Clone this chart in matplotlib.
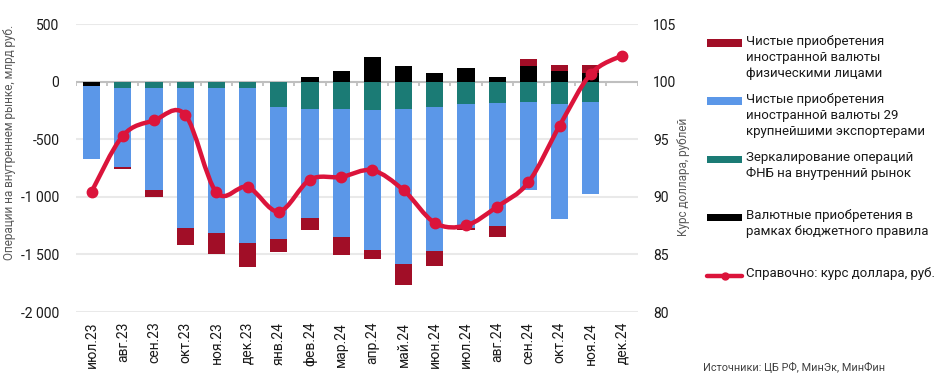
import numpy as np
import matplotlib
matplotlib.use("Agg")
import matplotlib.pyplot as plt
from matplotlib.path import Path
from matplotlib.patches import PathPatch, Rectangle
from matplotlib.lines import Line2D

plt.rcParams['font.family'] = ['Roboto', 'DejaVu Sans']

# ---------------- data ----------------
months = ["июл.23", "авг.23", "сен.23", "окт.23", "ноя.23", "дек.23",
          "янв.24", "фев.24", "мар.24", "апр.24", "май.24", "июн.24",
          "июл.24", "авг.24", "сен.24", "окт.24", "ноя.24", "дек.24"]
# Валютные приобретения в рамках бюджетного правила
budget = [-35, 0, 0, 0, 0, 0, 0, 37, 90, 211, 133, 78, 115, 40, 139, 90, 72, np.nan]
# Зеркалирование операций ФНБ
mirror = [0, -58, -52, -55, -52, -52, -222, -237, -237, -248, -237, -222, -196, -185, -179, -196, -179, np.nan]
# Чистые приобретения 29 крупнейшими экспортерами
exporters = [-635, -687, -892, -1215, -1259, -1348, -1143, -949, -1111, -1216, -1345, -1245,
             -1079, -1068, -759, -993, -797, np.nan]
# Чистые приобретения физическими лицами
individuals = [0, -10, -55, -150, -184, -208, -113, -101, -156, -80, -182, -132,
               -10, -95, 60, 58, 69, np.nan]
# Курс доллара
usd = [90.45, 95.30, 96.63, 97.12, 90.39, 90.85, 88.72, 91.49, 91.72, 92.30, 90.57, 87.74,
       87.51, 89.15, 91.26, 96.17, 100.67, 102.26]

left_ticks = [-2000, -1500, -1000, -500, 0, 500]
left_labels = ["-2 000", "-1 500", "-1 000", "-500", "0", "500"]
right_ticks = [80, 85, 90, 95, 100, 105]

legend_labels = ["Чистые приобретения\nиностранной валюты\nфизическими лицами",
                 "Чистые приобретения\nиностранной валюты 29\nкрупнейшими экспортерами",
                 "Зеркалирование операций\nФНБ на внутренний рынок",
                 "Валютные приобретения в\nрамках бюджетного правила",
                 "Справочно: курс доллара, руб."]
left_title = "Операции на внутреннем рынке, млрд руб."
right_title = "Курс доллара, рублей"
source = "Источники: ЦБ РФ, МинЭк, МинФин"

# ---------------- style ----------------
C_RED = "#a10e27"
C_BLUE = "#5b97e8"
C_TEAL = "#1b7b75"
C_BLACK = "#000000"
C_LINE = "#db143b"
C_GRID = "#e9e9e9"
C_AXIS = "#bfbfbf"

W, H = 935, 381
fig = plt.figure(figsize=(W / 100, H / 100), dpi=100)
ax_l, ax_r, ax_t, ax_b = 76, 637.6, 24, 312
ax = fig.add_axes([ax_l / W, 1 - ax_b / H, (ax_r - ax_l) / W, (ax_b - ax_t) / H])

x = np.arange(len(months))
bw = 0.55

# stacking: series in order outward from zero
series = [(budget, C_BLACK), (mirror, C_TEAL), (exporters, C_BLUE), (individuals, C_RED)]
pos_base = np.zeros(len(months))
neg_base = np.zeros(len(months))
for vals, col in series:
    v = np.array(vals, dtype=float)
    v0 = np.nan_to_num(v)
    bottoms = np.where(v0 >= 0, pos_base, neg_base)
    ax.bar(x, v0, bw, bottom=bottoms, color=col, zorder=3, linewidth=0)
    pos_base = pos_base + np.where(v0 > 0, v0, 0)
    neg_base = neg_base + np.where(v0 < 0, v0, 0)

ax.set_xlim(-0.5, len(months) - 0.5)
ax.set_ylim(-2000, 500)
ax.set_yticks(left_ticks)
ax.set_yticklabels(left_labels)
ax.grid(axis='y', color=C_GRID, lw=1.5, zorder=0)
ax.set_axisbelow(True)
for s in ax.spines.values():
    s.set_visible(False)
ax.tick_params(axis='y', length=0, pad=12, labelsize=10, labelcolor='#1a1a1a')
ax.set_xticks(x)
ax.set_xticklabels(months, rotation=90, va='top', ha='center')
ax.tick_params(axis='x', length=0, pad=7, labelsize=10, labelcolor='#1a1a1a')

# zero axis line with boundary ticks
ax.axhline(0, color=C_AXIS, lw=1.5, zorder=2)
bounds = np.arange(-0.5, len(months), 1.0)
ax.vlines(bounds, 0, -38, color=C_AXIS, lw=1.3, zorder=2)

# right axis with smoothed line
ax2 = ax.twinx()
ax2.set_ylim(80, 105)
ax2.set_yticks(right_ticks)
for s in ax2.spines.values():
    s.set_visible(False)
ax2.tick_params(axis='y', length=0, pad=11, labelsize=10, labelcolor='#1a1a1a')

yv = np.array(usd, dtype=float)
n = len(yv)
verts = [(x[0], yv[0])]
codes = [Path.MOVETO]
for i in range(n - 1):
    p0 = np.array([x[max(i - 1, 0)], yv[max(i - 1, 0)]])
    p1 = np.array([x[i], yv[i]])
    p2 = np.array([x[i + 1], yv[i + 1]])
    p3 = np.array([x[min(i + 2, n - 1)], yv[min(i + 2, n - 1)]])
    c1 = p1 + (p2 - p0) / 6.0
    c2 = p2 - (p3 - p1) / 6.0
    verts += [tuple(c1), tuple(c2), tuple(p2)]
    codes += [Path.CURVE4] * 3
path = Path(verts, codes)
ax2.add_patch(PathPatch(path, facecolor='none', edgecolor=C_LINE, lw=3.2,
                        capstyle='round', joinstyle='round', zorder=4))
ax2.plot(x, yv, linestyle='none', marker='o', markersize=7.5, color=C_LINE, zorder=5)

# axis titles
fig.text(10 / W, 1 - 142 / H, left_title, rotation=90, ha='center', va='center',
         fontsize=8.5, color='#595959')
fig.text(684 / W, 1 - 177 / H, right_title, rotation=90, ha='center', va='center',
         fontsize=8.5, color='#595959')

# manual legend
leg_cols = [C_RED, C_BLUE, C_TEAL, C_BLACK]
leg_y = [43, 101, 159, 217, 276]
px0, px1 = 707, 742
for i, lab in enumerate(legend_labels):
    yc = leg_y[i]
    if i < 4:
        fig.add_artist(Rectangle((px0 / W, 1 - (yc + 3.5) / H), (px1 - px0) / W, 7 / H,
                                 transform=fig.transFigure, color=leg_cols[i], lw=0))
    else:
        fig.add_artist(Line2D([px0 / W, px1 / W], [1 - yc / H, 1 - yc / H],
                              transform=fig.transFigure, color=C_LINE, lw=3.2,
                              solid_capstyle='round'))
        fig.add_artist(Line2D([(px0 + px1) / 2 / W], [1 - yc / H], transform=fig.transFigure,
                              color=C_LINE, marker='o', markersize=5, linestyle='none'))
    fig.text(746 / W, 1 - (yc - 8.5) / H, lab, ha='left', va='top', fontsize=9.5,
             color='#1a1a1a', linespacing=1.3)

fig.text(703 / W, 1 - 367 / H, source, ha='left', va='center', fontsize=7.8, color='#404040')

fig.savefig("out.png", dpi=100)
